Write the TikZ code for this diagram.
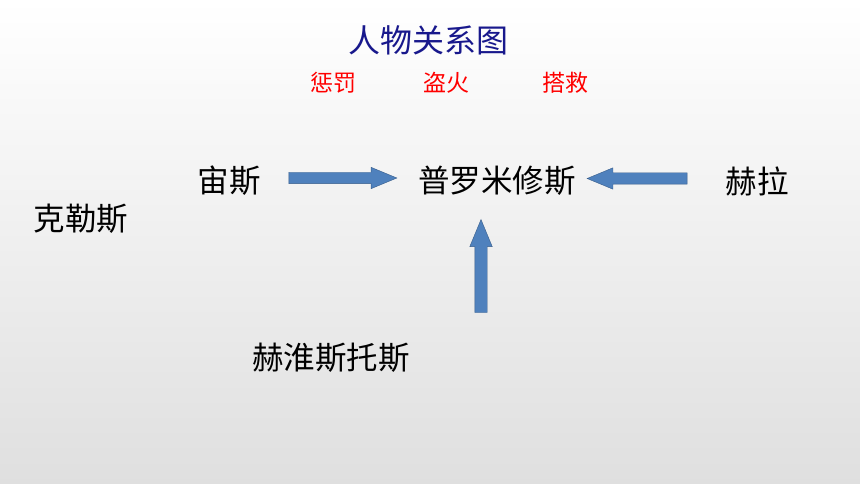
\documentclass[tikz,border=0pt]{standalone}
\usepackage{fontspec}
\newfontfamily\cjk{Noto Sans CJK SC}
\usetikzlibrary{shapes.arrows,positioning}
\definecolor{titleblue}{RGB}{24,24,140}
\definecolor{arrowfill}{RGB}{79,129,189}
\definecolor{arrowedge}{RGB}{56,93,138}

\begin{document}
\begin{tikzpicture}[x=1pt,y=-1pt,
	person/.style={font=\cjk\fontsize{31.5}{36}\selectfont, inner sep=0pt},
	deed/.style={font=\cjk\fontsize{23}{28}\selectfont, text=red, inner sep=0pt},
	blockarrow/.style={single arrow, draw=arrowedge, fill=arrowfill, thin, inner sep=5.5pt, single arrow head extend=5pt, single arrow tip angle=45, single arrow head indent=0pt}]
		\shade [top color=white, bottom color=gray!25] (0,0) rectangle (860,484);
		\useasboundingbox (0,0) rectangle (860,484);
		\node (title) at (428,40) [font=\cjk\fontsize{32}{38}\selectfont, text=titleblue, inner sep=0pt] {人物关系图};
		\node (pun) at (333,83) [deed] {惩罚};
		\node (fire) at (446,83) [deed] {盗火};
		\node (save) at (565,83) [deed] {搭救};
		\node (prom) at (497,181) [person] {普罗米修斯};
		\node (zeus) at (229,181) [person] {宙斯};
		\node (hera) at (757,181) [person] {赫拉};
		\node (kles) at (81,219) [person] {克勒斯};
		\node (heph) at (331,358) [person] {赫淮斯托斯};
		\node (zp) at (336,178) [blockarrow, minimum height=108pt] {};
		\node (hp) at (644,178.5) [blockarrow, minimum height=100pt, shape border rotate=180] {};
		\node (fp) at (481,273.5) [blockarrow, inner sep=6pt, minimum height=93pt, shape border rotate=90] {};
	\end{tikzpicture}
\end{document}
